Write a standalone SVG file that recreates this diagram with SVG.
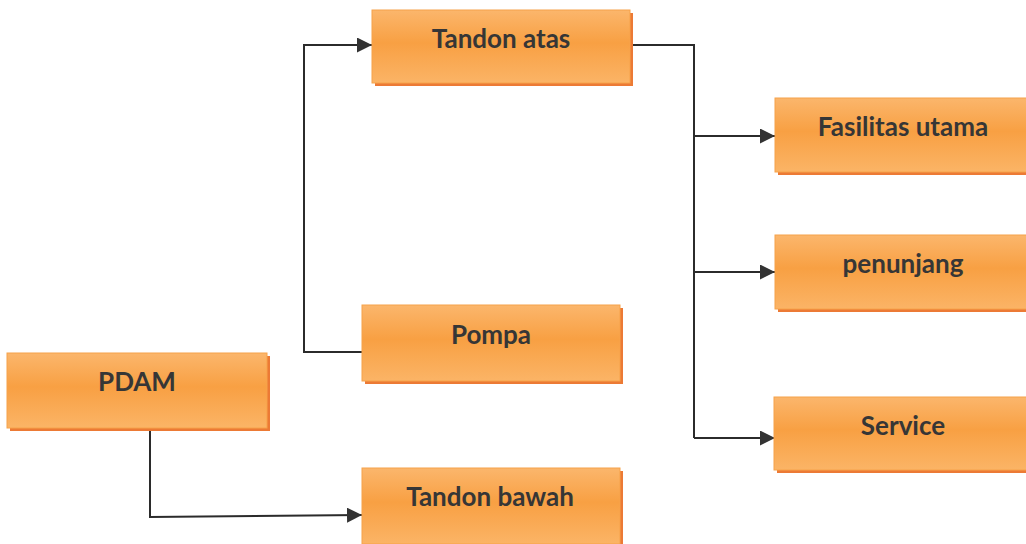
<svg xmlns="http://www.w3.org/2000/svg" width="1026" height="544" viewBox="0 0 1026 544">
  <defs>
    <linearGradient id="boxFill" x1="0" y1="0" x2="0" y2="1">
      <stop offset="0" stop-color="#fbb66c"/>
      <stop offset="0.45" stop-color="#f8a043"/>
      <stop offset="1" stop-color="#fbb466"/>
    </linearGradient>
    <marker id="arrow" viewBox="0 0 10 10" refX="10" refY="5" markerWidth="15" markerHeight="15" markerUnits="userSpaceOnUse" orient="auto">
      <path d="M0,0 L10,5 L0,10 z" fill="#333"/>
    </marker>
    <style>
      .shadow { fill: #ec7a35; }
      .box { fill: url(#boxFill); stroke: #f6a24a; stroke-width: 1; }
      .label { font-family: Lato, "Liberation Sans", sans-serif; font-size: 26px; font-weight: bold; fill: #363636; text-anchor: middle; }
      .link { fill: none; stroke: #2b2b2b; stroke-width: 2; }
    </style>
  </defs>
  <rect width="1026" height="544" fill="#fff"/>

  <g id="connectors">
    <!-- Tandon atas feeds the three outlets -->
    <path class="link" d="M630,45 H694 V438"/>
    <path class="link" d="M694,136 H775" marker-end="url(#arrow)"/>
    <path class="link" d="M694,272 H775" marker-end="url(#arrow)"/>
    <path class="link" d="M694,438 H775" marker-end="url(#arrow)"/>
    <!-- Pompa lifts to Tandon atas -->
    <path class="link" d="M362,352 H304 V45 H372" marker-end="url(#arrow)"/>
    <!-- PDAM supply into Tandon bawah -->
    <path class="link" d="M150,430 V517 L362,515" marker-end="url(#arrow)"/>
  </g>

  <g id="tandon-atas">
    <rect class="shadow" x="375" y="13" width="258" height="73"/>
    <rect class="box" x="372" y="10" width="258" height="73"/>
    <text class="label" x="501" y="48">Tandon atas</text>
  </g>

  <g id="fasilitas-utama">
    <rect class="shadow" x="778" y="101" width="260" height="74"/>
    <rect class="box" x="775" y="98" width="260" height="74"/>
    <text class="label" x="903" y="136">Fasilitas utama</text>
  </g>

  <g id="penunjang">
    <rect class="shadow" x="778" y="238" width="260" height="74"/>
    <rect class="box" x="775" y="235" width="260" height="74"/>
    <text class="label" x="903" y="273">penunjang</text>
  </g>

  <g id="service">
    <rect class="shadow" x="777" y="400" width="260" height="73"/>
    <rect class="box" x="774" y="397" width="260" height="73"/>
    <text class="label" x="903" y="435">Service</text>
  </g>

  <g id="pompa">
    <rect class="shadow" x="365" y="308" width="258" height="76"/>
    <rect class="box" x="362" y="305" width="258" height="76"/>
    <text class="label" x="491" y="344">Pompa</text>
  </g>

  <g id="pdam">
    <rect class="shadow" x="10" y="356" width="260" height="75"/>
    <rect class="box" x="7" y="353" width="260" height="75"/>
    <text class="label" x="137" y="391">PDAM</text>
  </g>

  <g id="tandon-bawah">
    <rect class="shadow" x="365" y="471" width="258" height="76"/>
    <rect class="box" x="362" y="468" width="258" height="76"/>
    <text class="label" x="490" y="506">Tandon bawah</text>
  </g>
</svg>
